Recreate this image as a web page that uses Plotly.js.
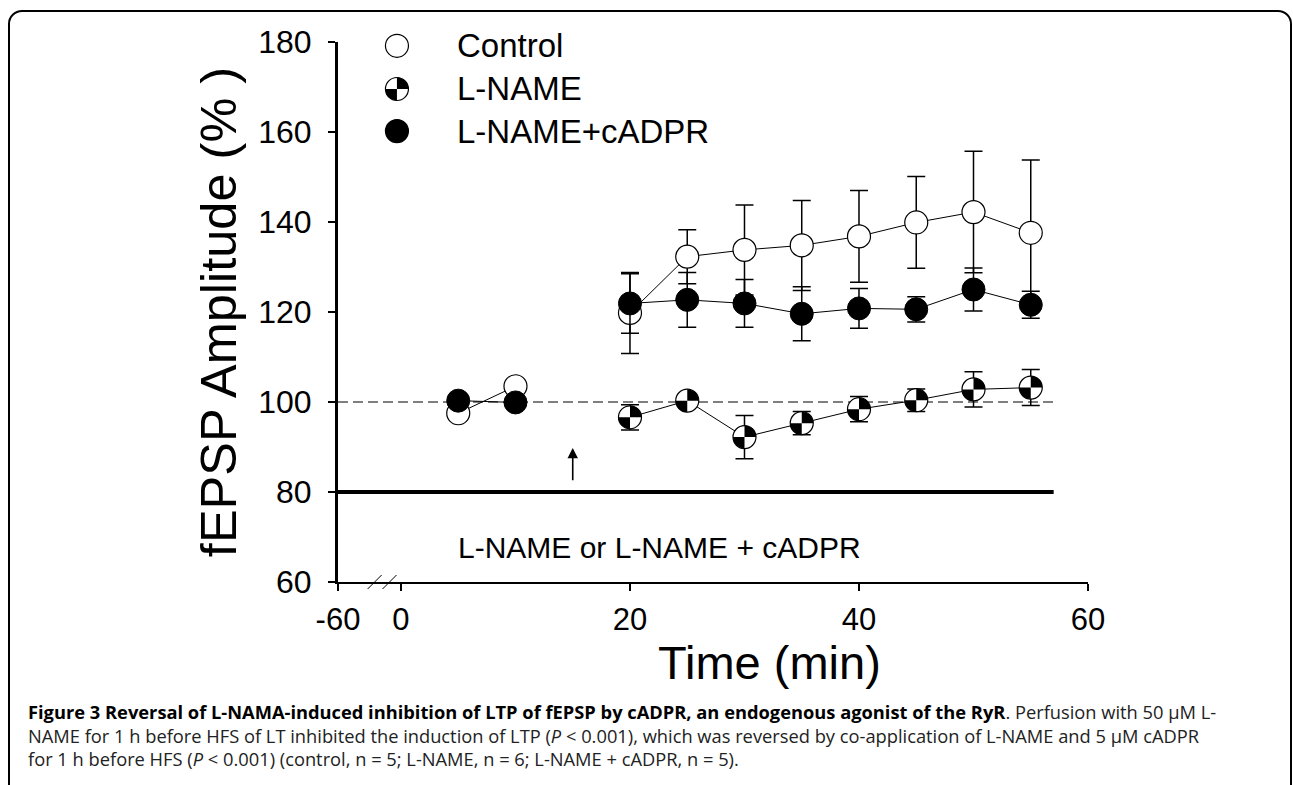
<!DOCTYPE html>
<html><head><meta charset="utf-8">
<script src="https://cdn.plot.ly/plotly-3.0.1.min.js"></script>
<style>
html,body{margin:0;padding:0;background:#fff;width:1293px;height:785px;overflow:hidden;}
#frame{position:absolute;left:8px;top:10px;width:1284px;height:800px;border:2px solid #000;border-radius:14px;box-sizing:border-box;}
#chart{position:absolute;left:0;top:0;width:1293px;height:785px;}
#caption{position:absolute;left:28px;top:700px;width:1262px;font-family:'Open Sans',sans-serif;font-size:18.3px;line-height:23.5px;color:#222;white-space:nowrap;}
#caption b{color:#000;}
</style></head>
<body>
<div id="frame"></div>
<div id="chart"></div>
<div id="caption"><b>Figure 3 Reversal of L-NAMA-induced inhibition of LTP of fEPSP by cADPR, an endogenous agonist of the RyR</b>. Perfusion with 50 μM L-<br>NAME for 1 h before HFS of LT inhibited the induction of LTP (<i>P</i> &lt; 0.001), which was reversed by co-application of L-NAME and 5 μM cADPR<br>for 1 h before HFS (<i>P</i> &lt; 0.001) (control, n = 5; L-NAME, n = 6; L-NAME + cADPR, n = 5).</div>
<script>
// ---- data ----
var controlTime = [5, 10, 15, 20, 25, 30, 35, 40, 45, 50, 55];
var controlVal  = [97.5, 103.5, null, 119.8, 132.3, 133.8, 134.8, 136.8, 139.9, 142.2, 137.6];
var controlErr  = [1, 1, null, 9, 6, 10, 10, 10.2, 10.2, 13.5, 16.2];

var lnameTime = [20, 25, 30, 35, 40, 45, 50, 55];
var lnameVal  = [96.6, 100.3, 92.2, 95.3, 98.4, 100.4, 102.8, 103.2];
var lnameErr  = [2.8, 1.5, 4.8, 2.6, 2.8, 2.5, 3.9, 4.0];

var cadprTime = [5, 10, 15, 20, 25, 30, 35, 40, 45, 50, 55];
var cadprVal  = [100.3, 99.9, null, 121.9, 122.7, 121.9, 119.6, 120.8, 120.6, 125.0, 121.6];
var cadprErr  = [1, 1, null, 6.6, 6.1, 5.3, 6.0, 4.4, 2.8, 4.8, 3.0];

var seriesNames = ['Control', 'L-NAME', 'L-NAME+cADPR'];
var xTickVals = [-5.5, 0, 20, 40, 60];
var xTickText = ['-60', '0', '20', '40', '60'];
var yTickVals = [60, 80, 100, 120, 140, 160, 180];
var baseline = 100;
var drugBarLevel = 80;
var drugBarEnd = 57;
var hfsTime = 15;
var drugLabel = 'L-NAME or L-NAME + cADPR';
var xTitle = 'Time (min)';
var yTitle = 'fEPSP Amplitude (% )';

// ---- style ----
var FONT = 'Liberation Sans, Arial, sans-serif';
var MS = 23;       // marker diameter px
var R = MS / 2;
var K = 0.5523 * R;

function errBar(arr) {
  return {type: 'data', array: arr, visible: true, color: '#000', thickness: 1.5, width: 9};
}

var traces = [
  {x: controlTime, y: controlVal, error_y: errBar(controlErr), mode: 'lines+markers', name: seriesNames[0],
   line: {color: '#000', width: 1}, marker: {size: MS, color: '#fff', line: {color: '#000', width: 1.2}},
   connectgaps: false, showlegend: false, cliponaxis: false},
  {x: lnameTime, y: lnameVal, error_y: errBar(lnameErr), mode: 'lines+markers', name: seriesNames[1],
   line: {color: '#000', width: 1}, marker: {size: MS, color: '#fff', line: {color: '#000', width: 1.2}},
   showlegend: false, cliponaxis: false},
  {x: cadprTime, y: cadprVal, error_y: errBar(cadprErr), mode: 'lines+markers', name: seriesNames[2],
   line: {color: '#000', width: 1}, marker: {size: MS, color: '#000', line: {color: '#000', width: 1}},
   connectgaps: false, showlegend: false, cliponaxis: false}
];

// quartered symbol wedges (top-right & bottom-left black)
function wedgePaths() {
  return [
    'M0,0 L' + R + ',0 C' + R + ',' + K + ' ' + K + ',' + R + ' 0,' + R + ' Z',
    'M0,0 L' + (-R) + ',0 C' + (-R) + ',' + (-K) + ' ' + (-K) + ',' + (-R) + ' 0,' + (-R) + ' Z'
  ];
}
function wedgeShapes(xa, ya, xref, yref) {
  return wedgePaths().map(function (p) {
    return {type: 'path', xref: xref, yref: yref, xsizemode: 'pixel', ysizemode: 'pixel',
      xanchor: xa, yanchor: ya, path: p, fillcolor: '#000', line: {width: 0}, layer: 'above'};
  });
}

var shapes = [];
shapes.push({type: 'line', xref: 'x', yref: 'y', x0: xTickVals[0], x1: drugBarEnd, y0: baseline, y1: baseline,
  line: {color: '#000', width: 1.2, dash: '10px,5px'}, layer: 'below'});
shapes.push({type: 'line', xref: 'x', yref: 'y', x0: xTickVals[0], x1: drugBarEnd, y0: drugBarLevel, y1: drugBarLevel,
  line: {color: '#000', width: 4}, layer: 'below'});
lnameTime.forEach(function (t, i) {
  shapes = shapes.concat(wedgeShapes(t, lnameVal[i], 'x', 'y'));
});
// axis break marks
[-2.3, -1.0].forEach(function (bx) {
  shapes.push({type: 'line', xref: 'x', yref: 'paper', xsizemode: 'pixel', ysizemode: 'pixel',
    xanchor: bx, yanchor: 0, x0: -7, x1: 7, y0: -7, y1: 7, line: {color: '#000', width: 1}});
});

// legend (drawn manually, paper coordinates, so symbols match figure size)
var legX = 0.0786, legTextX = 0.156;
var legY = [0.993, 0.913, 0.835];
var legendFill = ['#fff', '#fff', '#000'];
legY.forEach(function (ly, i) {
  shapes.push({type: 'circle', xref: 'paper', yref: 'paper', xsizemode: 'pixel', ysizemode: 'pixel',
    xanchor: legX, yanchor: ly, x0: -R, x1: R, y0: -R, y1: R,
    fillcolor: legendFill[i], line: {color: '#000', width: 1.2}, layer: 'above'});
});
shapes = shapes.concat(wedgeShapes(legX, legY[1], 'paper', 'paper'));

var annotations = seriesNames.map(function (n, i) {
  return {x: legTextX, y: legY[i], xref: 'paper', yref: 'paper', text: n, showarrow: false,
    xanchor: 'left', yanchor: 'middle', font: {family: FONT, size: 33, color: '#000'}};
});
annotations.push({x: 22.6, y: 67.6, xref: 'x', yref: 'y', text: drugLabel, showarrow: false,
  xanchor: 'center', yanchor: 'middle', font: {family: FONT, size: 30, color: '#000'}});
annotations.push({x: hfsTime, y: 89.8, ax: hfsTime, ay: 82.3, xref: 'x', yref: 'y', axref: 'x', ayref: 'y',
  text: '', showarrow: true, arrowhead: 2, arrowsize: 1.3, arrowwidth: 1.6, arrowcolor: '#000'});
// x-axis title (offset to the right of the axis centre, as in the figure)
annotations.push({x: 32.2, y: 0, xref: 'x', yref: 'paper', yshift: -52, text: xTitle, showarrow: false,
  xanchor: 'center', yanchor: 'top', font: {family: FONT, size: 47, color: '#000'}});

var layout = {
  width: 1293, height: 785,
  margin: {l: 338, r: 205, t: 42, b: 203, pad: 0},
  paper_bgcolor: 'rgba(0,0,0,0)', plot_bgcolor: 'rgba(0,0,0,0)',
  font: {family: FONT, color: '#000'},
  showlegend: false,
  xaxis: {range: [xTickVals[0], 60], tickmode: 'array', tickvals: xTickVals, ticktext: xTickText,
    showgrid: false, zeroline: false, showline: true, linecolor: '#000', linewidth: 1.5,
    ticks: 'outside', ticklen: 7, tickwidth: 2, tickcolor: '#000', ticklabelstandoff: 2,
    tickfont: {family: FONT, size: 31, color: '#000'}},
  yaxis: {range: [60, 180], tickmode: 'array', tickvals: yTickVals,
    showgrid: false, zeroline: false, showline: true, linecolor: '#000', linewidth: 3,
    ticks: 'outside', ticklen: 7, tickwidth: 1.5, tickcolor: '#000', ticklabelstandoff: 10,
    tickfont: {family: FONT, size: 32, color: '#000'},
    title: {text: yTitle, font: {family: FONT, size: 50.5, color: '#000'}, standoff: 6}},
  shapes: shapes,
  annotations: annotations
};

Plotly.newPlot('chart', traces, layout, {staticPlot: true, displayModeBar: false});
</script>
</body></html>
